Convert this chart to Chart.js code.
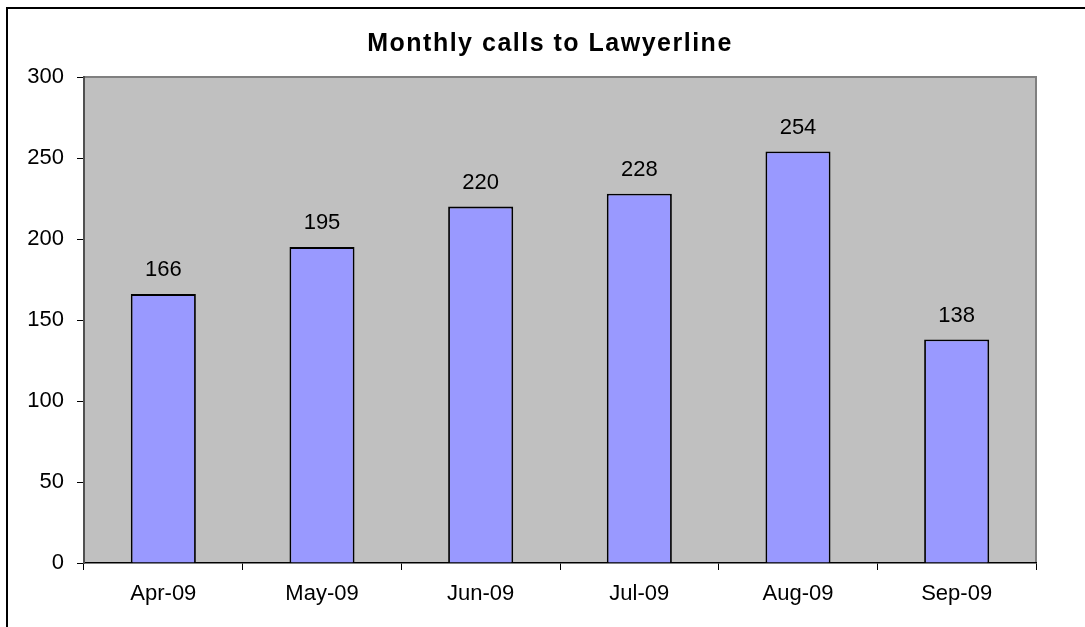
<!DOCTYPE html>
<html>
<head>
<meta charset="utf-8">
<script src="https://cdn.jsdelivr.net/npm/chart.js@4/dist/chart.umd.min.js"></script>
<style>
  html, body { margin: 0; padding: 0; background: #ffffff; }
  #wrap { width: 1085px; height: 627px; }
</style>
</head>
<body>
<div id="wrap"><canvas id="c" width="1085" height="627"></canvas></div>
<script>
const chartTitle = 'Monthly calls to Lawyerline';
const months = ['Apr-09', 'May-09', 'Jun-09', 'Jul-09', 'Aug-09', 'Sep-09'];
const calls = [166, 195, 220, 228, 254, 138];
const yTicks = [0, 50, 100, 150, 200, 250, 300];

const FONT = '"Liberation Sans", Arial, sans-serif';

const decor = {
  id: 'decor',
  beforeDraw(chart) {
    const { ctx, chartArea: a } = chart;
    ctx.save();
    ctx.fillStyle = '#ffffff';
    ctx.fillRect(0, 0, chart.width, chart.height);
    // outer frame (left and top visible)
    ctx.strokeStyle = '#000000';
    ctx.lineWidth = 2;
    ctx.beginPath();
    ctx.moveTo(7, chart.height + 5);
    ctx.lineTo(7, 8);
    ctx.lineTo(chart.width + 5, 8);
    ctx.stroke();
    // plot background
    ctx.fillStyle = '#C0C0C0';
    ctx.fillRect(a.left, a.top, a.right - a.left, a.bottom - a.top);
    // plot frame top/right
    ctx.strokeStyle = '#808080';
    ctx.lineWidth = 2;
    ctx.beginPath();
    ctx.moveTo(a.left, a.top);
    ctx.lineTo(a.right, a.top);
    ctx.lineTo(a.right, a.bottom);
    ctx.stroke();
    // title
    ctx.fillStyle = '#000000';
    ctx.font = 'bold 25px ' + FONT;
    ctx.textAlign = 'center';
    ctx.textBaseline = 'alphabetic';
    try { ctx.letterSpacing = '1.5px'; } catch (e) {}
    ctx.fillText(chartTitle, 550, 51);
    try { ctx.letterSpacing = '0px'; } catch (e) {}
    ctx.restore();
  },
  afterDatasetsDraw(chart) {
    const { ctx } = chart;
    const meta = chart.getDatasetMeta(0);
    ctx.save();
    ctx.fillStyle = '#000000';
    ctx.font = '22px ' + FONT;
    ctx.textAlign = 'center';
    ctx.textBaseline = 'middle';
    meta.data.forEach((bar, i) => {
      ctx.fillText(String(calls[i]), bar.x, bar.y - 24);
    });
    ctx.restore();
  }
};

new Chart(document.getElementById('c'), {
  type: 'bar',
  data: {
    labels: months,
    datasets: [{
      data: calls,
      backgroundColor: '#9999FF',
      borderColor: '#000000',
      borderWidth: 1.8,
      categoryPercentage: 1,
      barPercentage: 0.41
    }]
  },
  options: {
    responsive: false,
    animation: false,
    devicePixelRatio: 1,
    layout: { padding: { top: 77, right: 49, bottom: 0, left: 0 } },
    plugins: {
      legend: { display: false },
      title: { display: false },
      tooltip: { enabled: false }
    },
    scales: {
      x: {
        grid: {
          offset: true,
          drawOnChartArea: false,
          drawTicks: true,
          tickLength: 7,
          color: '#000000',
          lineWidth: 1
        },
        border: { display: true, color: '#000000', width: 1.5 },
        ticks: {
          color: '#000000',
          font: { family: FONT, size: 22 },
          padding: 11,
          maxRotation: 0,
          autoSkip: false
        },
        afterFit(scale) { scale.height = 64; }
      },
      y: {
        min: 0,
        max: 300,
        afterBuildTicks(scale) { scale.ticks = yTicks.map(v => ({ value: v })); },
        grid: {
          drawOnChartArea: false,
          drawTicks: true,
          tickLength: 7,
          color: '#000000',
          lineWidth: 1
        },
        border: { display: true, color: '#505050', width: 2 },
        ticks: {
          color: '#000000',
          font: { family: FONT, size: 22 },
          padding: 13
        },
        afterFit(scale) { scale.width = 84; }
      }
    }
  },
  plugins: [decor]
});
</script>
</body>
</html>
